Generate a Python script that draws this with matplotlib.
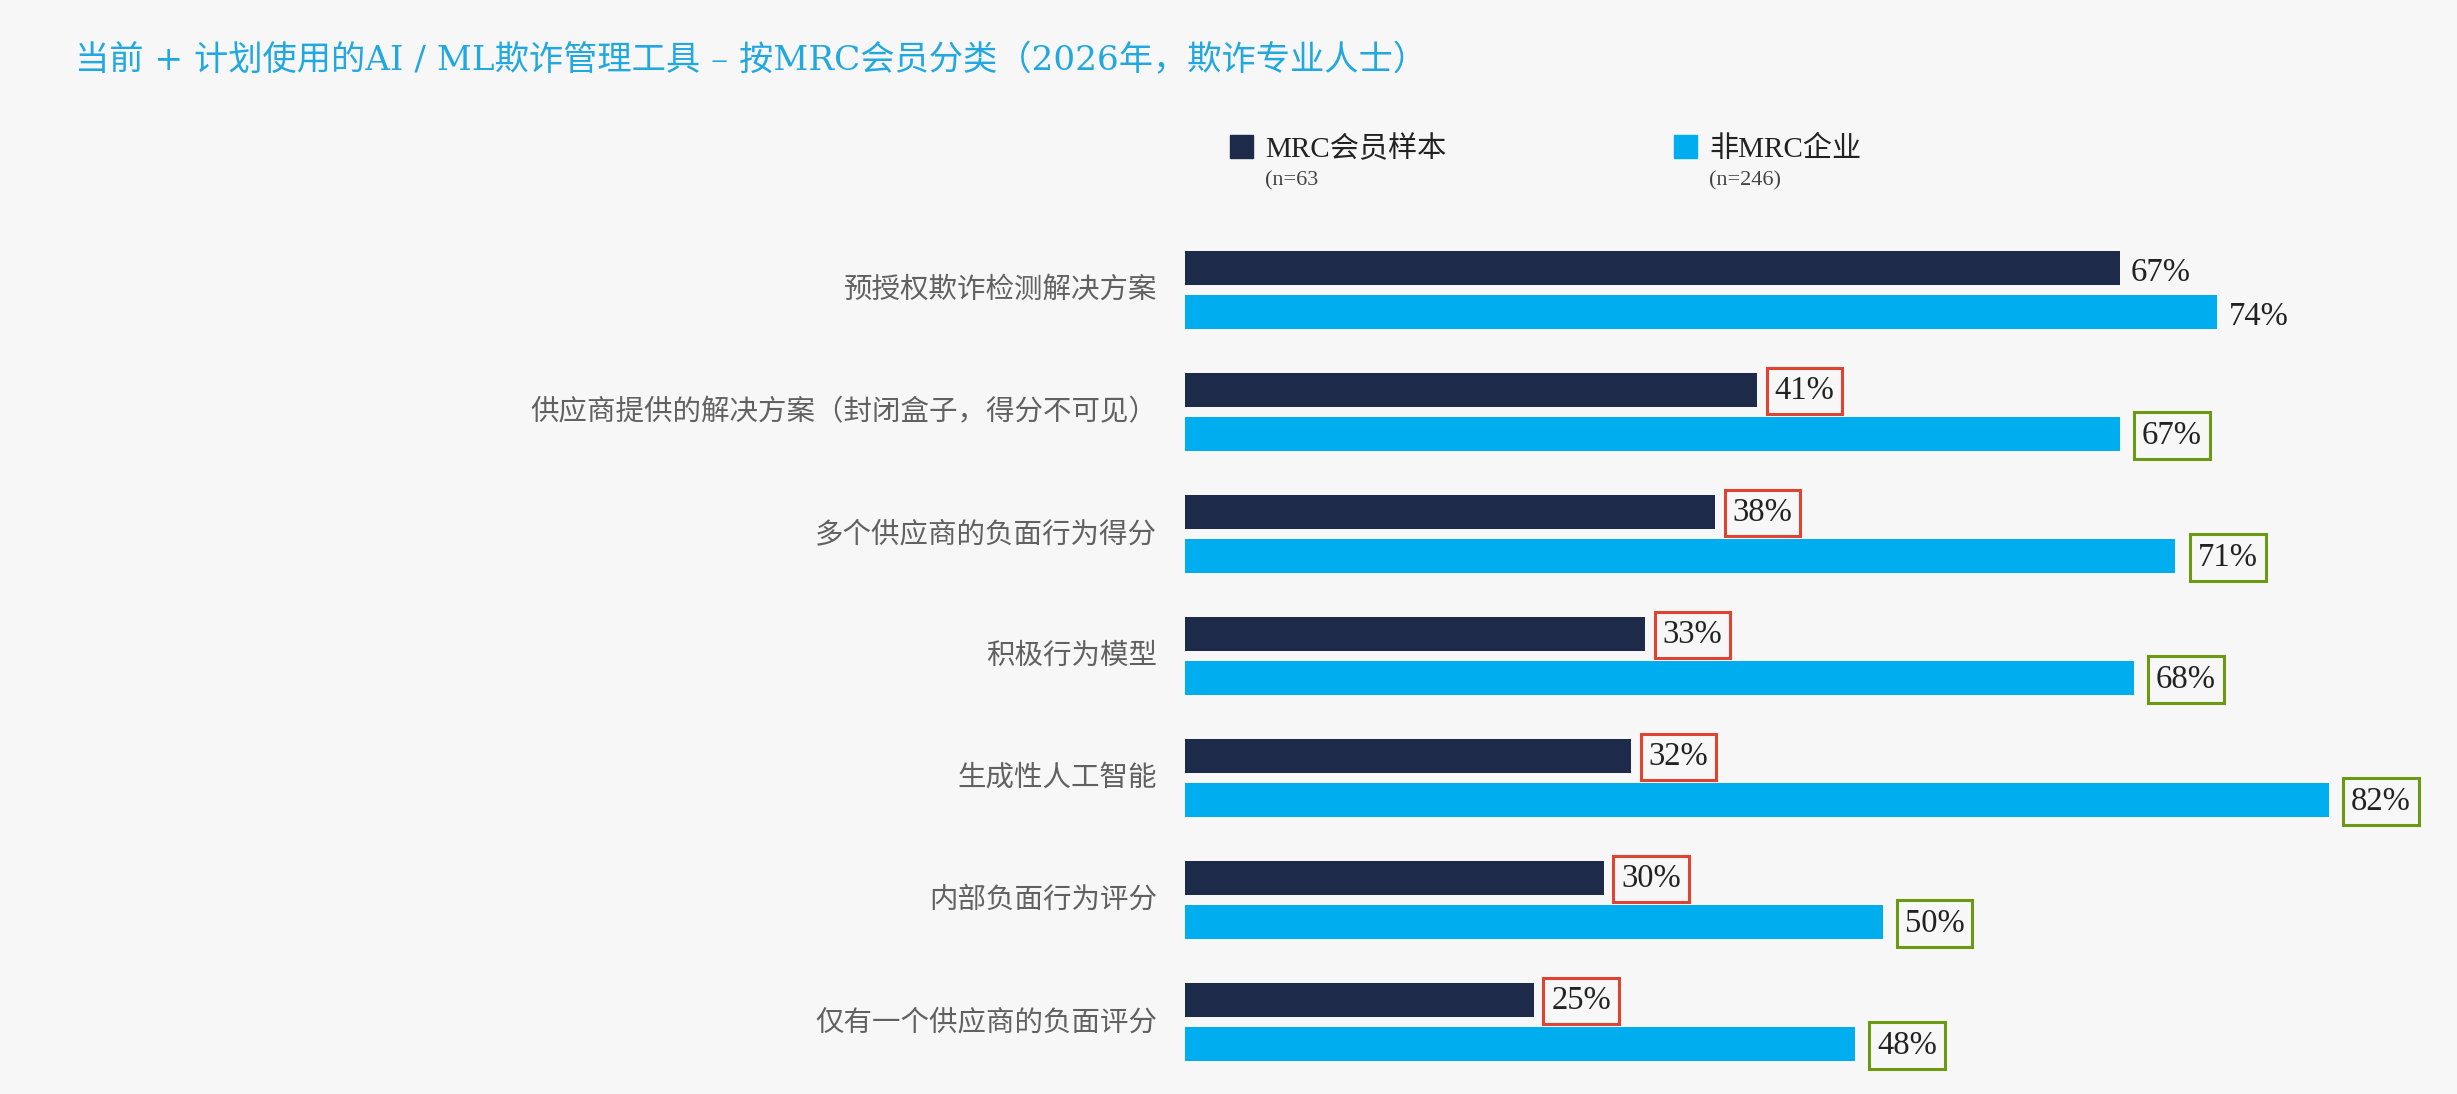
import matplotlib
matplotlib.use("Agg")
import matplotlib.pyplot as plt
import numpy as np

plt.rcParams['font.family'] = ['Liberation Serif', 'Noto Sans CJK SC', 'DejaVu Sans']

# 数据
categories = ["预授权欺诈检测解决方案",
              "供应商提供的解决方案（封闭盒子，得分不可见）",
              "多个供应商的负面行为得分",
              "积极行为模型",
              "生成性人工智能",
              "内部负面行为评分",
              "仅有一个供应商的负面评分"]
mrc_vals = [67, 41, 38, 33, 32, 30, 25]
non_mrc_vals = [74, 67, 71, 68, 82, 50, 48]
series_names = ["MRC会员样本", "非MRC企业"]
series_n = ["(n=63", "(n=246)"]
title = "当前 + 计划使用的AI / ML欺诈管理工具 – 按MRC会员分类（2026年，欺诈专业人士）"

c_dark = "#1d2a4a"
c_light = "#00aeef"
c_red = "#e0432f"
c_green = "#6b9a12"
bg = "#f7f7f7"

W, H = 2457, 1094
fig = plt.figure(figsize=(W / 100, H / 100), dpi=100, facecolor=bg)

# axes placed in pixel terms
left_px, top_px, bot_px = 1185, 229, 1083
ax = fig.add_axes([left_px / W, 1 - bot_px / H, 1 - left_px / W, (bot_px - top_px) / H])
ax.set_facecolor(bg)
px_per_pct = 13.95
ax.set_xlim(0, (W - left_px) / px_per_pct)
ax.set_ylim(len(categories) - 0.5, -0.5)

y = np.arange(len(categories))
off = 0.182
h = 0.28
ax.barh(y - off, mrc_vals, height=h, color=c_dark)
ax.barh(y + off, non_mrc_vals, height=h, color=c_light)

for i, (a, b) in enumerate(zip(mrc_vals, non_mrc_vals)):
    if i == 0:
        ax.text(a + 0.8, i - off + 0.04, f"{a}%", va='center', ha='left', fontsize=23.5, color='#222222')
        ax.text(b + 0.8, i + off + 0.04, f"{b}%", va='center', ha='left', fontsize=23.5, color='#222222')
    else:
        ax.text(a + 1.25, i - off + 0.01, f"{a}%", va='center', ha='left', fontsize=23.5, color='#222222',
                bbox=dict(boxstyle='square,pad=0.24', fc='none', ec=c_red, lw=2.2))
        ax.text(b + 1.6, i + off + 0.01, f"{b}%", va='center', ha='left', fontsize=23.5, color='#222222',
                bbox=dict(boxstyle='square,pad=0.24', fc='none', ec=c_green, lw=2.2))

for i, cat in enumerate(categories):
    ax.text(-28 / px_per_pct, i, cat, ha='right', va='center', fontsize=20.5,
            color='#616161', family=['Noto Sans CJK SC'])

for s in ax.spines.values():
    s.set_visible(False)
ax.set_xticks([])
ax.set_yticks([])

# title
fig.text(75 / W, 1 - 61 / H, title, ha='left', va='center', fontsize=24.7, color='#22a8e0',
         family=['DejaVu Serif', 'Noto Sans CJK SC'])

# legend
for k, (x0, col) in enumerate([(1230, c_dark), (1674, c_light)]):
    fig.patches.append(plt.Rectangle((x0 / W, 1 - 158 / H), 23 / W, 23 / H,
                                     transform=fig.transFigure, color=col))
    fig.text((x0 + 35) / W, 1 - 149 / H, series_names[k], ha='left', va='center',
             fontsize=21, color='#222222')
    fig.text((x0 + 35) / W, 1 - 181 / H, series_n[k], ha='left', va='center',
             fontsize=16, color='#444444')

fig.savefig("out.png", dpi=100, facecolor=bg)
